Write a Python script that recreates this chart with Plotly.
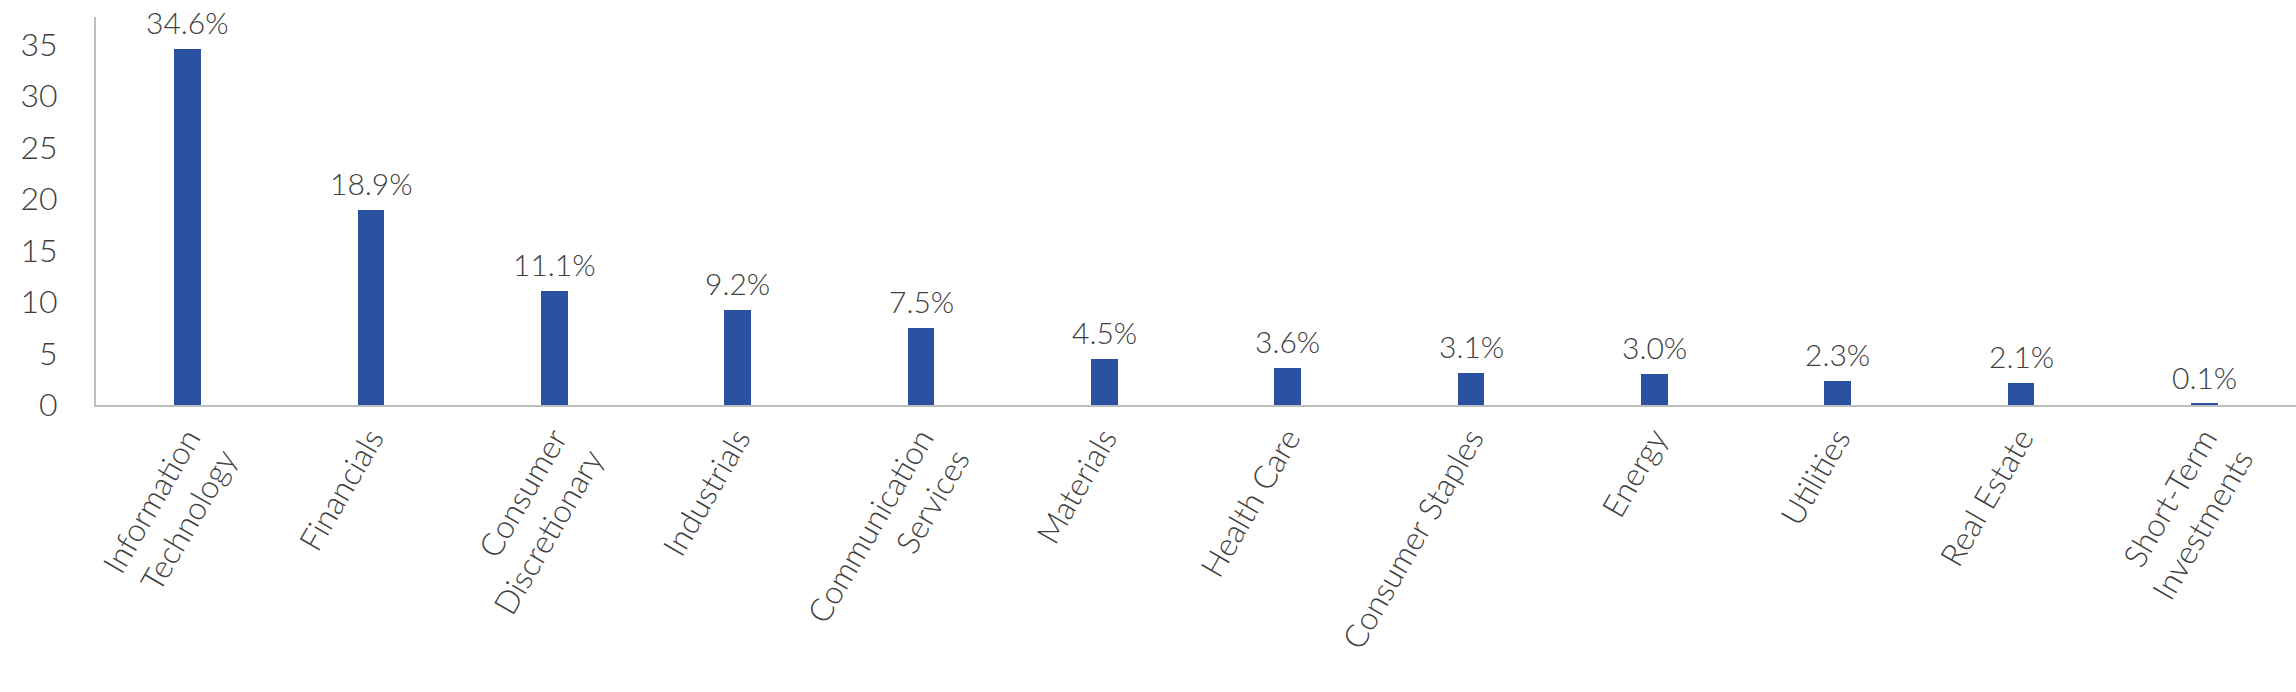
import plotly.graph_objects as go

categories = ["Information<br>Technology", "Financials", "Consumer<br>Discretionary", "Industrials",
              "Communication<br>Services", "Materials", "Health Care", "Consumer Staples",
              "Energy", "Utilities", "Real Estate", "Short-Term<br>Investments"]
values = [34.6, 18.9, 11.1, 9.2, 7.5, 4.5, 3.6, 3.1, 3.0, 2.3, 2.1, 0.1]
ytick_vals = [0, 5, 10, 15, 20, 25, 30, 35]

FONT = "Lato"
TXT = "#404040"
BAR = "#2B52A0"

fig = go.Figure()
fig.add_trace(go.Bar(
    x=categories, y=values, marker=dict(color=BAR, line=dict(width=0)),
    width=0.147, cliponaxis=False, hoverinfo="skip",
))
for c, v in zip(categories, values):
    fig.add_annotation(x=c, y=v, text=f"{v:.1f}%", showarrow=False, yanchor="bottom",
                       yshift=7, font=dict(family=FONT, size=30, color=TXT, weight=300))

fig.update_layout(
    width=2296, height=692,
    margin=dict(l=96, r=0, t=17, b=287),
    plot_bgcolor="white", paper_bgcolor="white",
    showlegend=False,
    bargap=0,
    font=dict(family=FONT, size=28, color=TXT),
)
fig.update_xaxes(
    tickangle=-60, showline=True, linecolor="#BFBFBF", linewidth=2,
    ticks="", tickfont=dict(family=FONT, size=32, color=TXT, weight=300), showgrid=False,
)
fig.update_yaxes(
    range=[0, 37.7], tickvals=ytick_vals, showline=True, linecolor="#BFBFBF", linewidth=2,
    showgrid=False, zeroline=False, ticks="", ticklabelstandoff=30,
    tickfont=dict(family=FONT, size=32, color=TXT, weight=300),
)
fig.write_html("out.html")
